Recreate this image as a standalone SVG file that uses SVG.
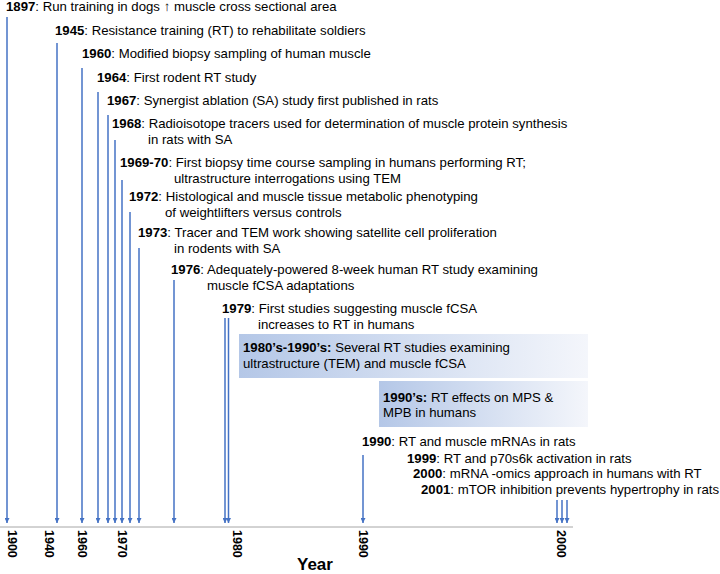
<svg xmlns="http://www.w3.org/2000/svg" width="720" height="574" viewBox="0 0 720 574">
<defs>
<marker id="ah" viewBox="0 0 6 6" refX="6" refY="3" markerWidth="5" markerHeight="5" markerUnits="userSpaceOnUse" orient="auto">
<path d="M0,0 L6,3 L0,6 z" fill="#4472C4"/>
</marker>
<linearGradient id="bg" x1="0" y1="0" x2="1" y2="0">
<stop offset="0" stop-color="#B4C7E7"/>
<stop offset="1" stop-color="#F4F6FB"/>
</linearGradient>
</defs>
<style>
text{font-family:"Liberation Sans",Arial,sans-serif;font-size:13.2px;fill:#000}
.b{font-weight:bold}
.tick{font-weight:bold;font-size:12.5px}
.year{font-weight:bold;font-size:17px}
.arr{stroke:#4472C4;stroke-width:1.5;fill:none;marker-end:url(#ah)}
</style>
<rect width="720" height="574" fill="#fff"/>
<g id="axis">
<line x1="0" y1="527" x2="573" y2="527" stroke="#A6A6A6" stroke-width="1"/>
<text class="tick" transform="translate(7.5,530) rotate(90)">1900</text>
<text class="tick" transform="translate(44.5,530) rotate(90)">1940</text>
<text class="tick" transform="translate(77.5,530) rotate(90)">1960</text>
<text class="tick" transform="translate(117.5,530) rotate(90)">1970</text>
<text class="tick" transform="translate(232.5,530) rotate(90)">1980</text>
<text class="tick" transform="translate(358.5,530) rotate(90)">1990</text>
<text class="tick" transform="translate(556.5,530) rotate(90)">2000</text>
<text class="year" x="297" y="570">Year</text>
</g>
<g id="connectors">
<line class="arr" x1="7" y1="17" x2="7" y2="523"/>
<line class="arr" x1="57" y1="43" x2="57" y2="523"/>
<line class="arr" x1="82" y1="68" x2="82" y2="523"/>
<line class="arr" x1="98" y1="92" x2="98" y2="523"/>
<line class="arr" x1="108" y1="115" x2="108" y2="523"/>
<line class="arr" x1="115" y1="140" x2="115" y2="523"/>
<line class="arr" x1="122" y1="180" x2="122" y2="523"/>
<line class="arr" x1="130" y1="212" x2="130" y2="523"/>
<line class="arr" x1="139" y1="248" x2="139" y2="523"/>
<line class="arr" x1="174" y1="280" x2="174" y2="523"/>
<line class="arr" x1="225" y1="318" x2="225" y2="523"/>
<line class="arr" x1="228.5" y1="318" x2="228.5" y2="523"/>
<line class="arr" x1="363" y1="455" x2="363" y2="523"/>
<line class="arr" x1="557" y1="500" x2="557" y2="523"/>
<line class="arr" x1="562" y1="500" x2="562" y2="523"/>
<line class="arr" x1="567" y1="500" x2="567" y2="523"/>
</g>
<g id="e1897"><text x="6" y="11"><tspan class="b">1897</tspan>: Run training in dogs ↑ muscle cross sectional area</text></g>
<g id="e1945"><text x="55" y="35"><tspan class="b">1945</tspan>: Resistance training (RT) to rehabilitate soldiers</text></g>
<g id="e1960"><text x="82" y="58"><tspan class="b">1960</tspan>: Modified biopsy sampling of human muscle</text></g>
<g id="e1964"><text x="97" y="82"><tspan class="b">1964</tspan>: First rodent RT study</text></g>
<g id="e1967"><text x="107" y="105"><tspan class="b">1967</tspan>: Synergist ablation (SA) study first published in rats</text></g>
<g id="e1968"><text x="112" y="128"><tspan class="b">1968</tspan>: Radioisotope tracers used for determination of muscle protein synthesis</text><text x="148" y="144">in rats with SA</text></g>
<g id="e1969"><text x="120" y="167"><tspan class="b">1969-70</tspan>: First biopsy time course sampling in humans performing RT;</text><text x="174" y="183">ultrastructure interrogations using TEM</text></g>
<g id="e1972"><text x="129" y="201"><tspan class="b">1972</tspan>: Histological and muscle tissue metabolic phenotyping</text><text x="165" y="217">of weightlifters versus controls</text></g>
<g id="e1973"><text x="138" y="237"><tspan class="b">1973</tspan>: Tracer and TEM work showing satellite cell proliferation</text><text x="174" y="253">in rodents with SA</text></g>
<g id="e1976"><text x="171" y="274"><tspan class="b">1976</tspan>: Adequately-powered 8-week human RT study examining</text><text x="207" y="290">muscle fCSA adaptations</text></g>
<g id="e1979"><text x="222" y="313"><tspan class="b">1979</tspan>: First studies suggesting muscle fCSA</text><text x="258" y="329">increases to RT in humans</text></g>
<g id="e1980s"><rect x="239" y="334" width="349" height="44" fill="url(#bg)"/><text x="243" y="352"><tspan class="b">1980’s-1990’s:</tspan> Several RT studies examining</text><text x="243" y="368">ultrastructure (TEM) and muscle fCSA</text></g>
<g id="e1990s"><rect x="379" y="381" width="209" height="46" fill="url(#bg)"/><text x="383" y="402"><tspan class="b">1990’s:</tspan> RT effects on MPS &amp;</text><text x="383" y="417">MPB in humans</text></g>
<g id="e1990"><text x="362" y="446"><tspan class="b">1990</tspan>: RT and muscle mRNAs in rats</text></g>
<g id="e1999"><text x="407" y="463"><tspan class="b">1999</tspan>: RT and p70s6k activation in rats</text></g>
<g id="e2000"><text x="413" y="478"><tspan class="b">2000</tspan>: mRNA -omics approach in humans with RT</text></g>
<g id="e2001"><text x="421" y="494"><tspan class="b">2001</tspan>: mTOR inhibition prevents hypertrophy in rats</text></g>
</svg>
